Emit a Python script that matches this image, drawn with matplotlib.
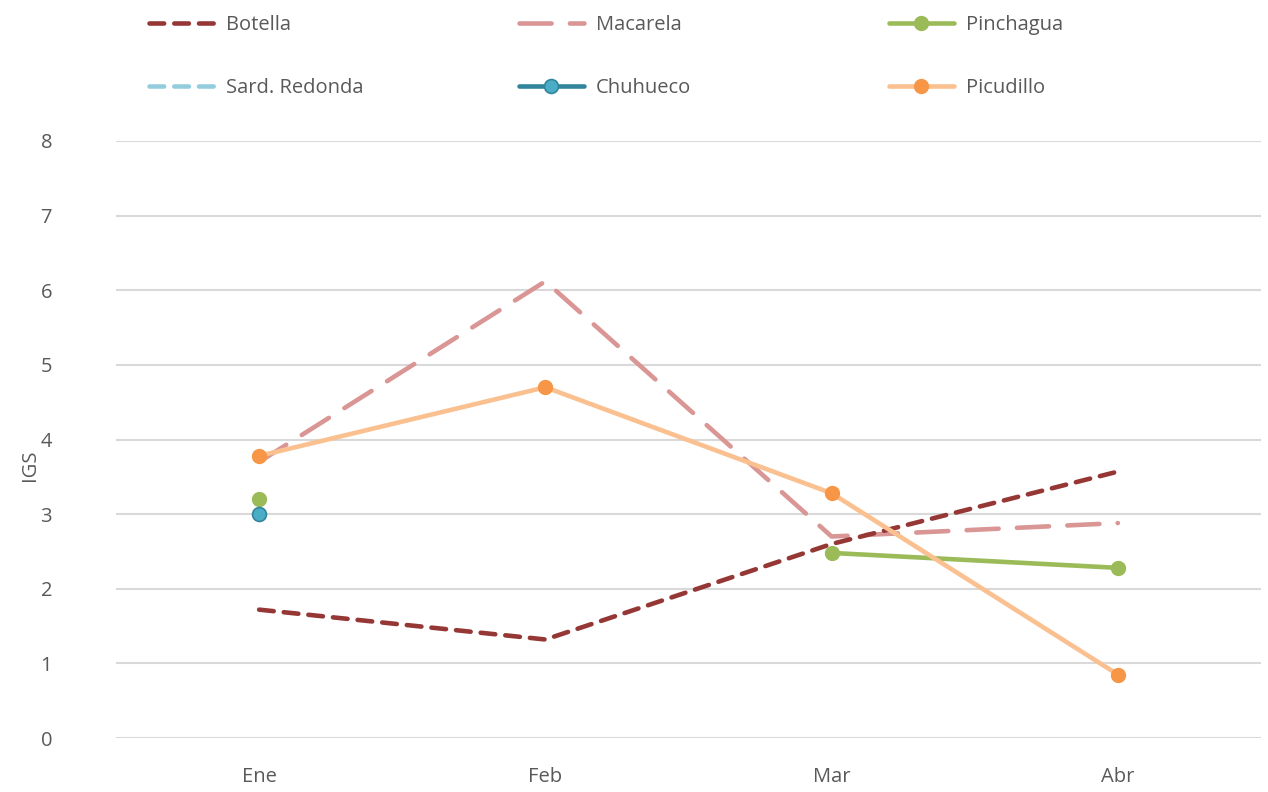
import matplotlib
matplotlib.use("Agg")
import matplotlib.pyplot as plt
from matplotlib.lines import Line2D
import numpy as np

months = ["Ene", "Feb", "Mar", "Abr"]
botella = [1.72, 1.32, 2.60, 3.57]
macarela = [3.70, 6.12, 2.70, 2.88]
pinchagua = [3.20, np.nan, 2.48, 2.28]
sard_redonda = [np.nan, np.nan, np.nan, np.nan]
chuhueco = [3.00, np.nan, np.nan, np.nan]
picudillo = [3.78, 4.70, 3.28, 0.85]
yticks = [0, 1, 2, 3, 4, 5, 6, 7, 8]

plt.rcParams['font.family'] = ['Open Sans', 'DejaVu Sans']
TXT = '#595959'
FS = 14.5

fig = plt.figure(figsize=(12.68, 7.92), dpi=100)
ax = fig.add_axes([116/1268, 1-738/792, (1261-116)/1268, (738-141)/792])

x = np.arange(len(months))

styles = {
    'Botella': dict(color='#953735', lw=3.3, dashes=(3.2, 2.2), zorder=4),
    'Macarela': dict(color='#D99694', lw=3.3, dashes=(7, 4), zorder=3),
    'Pinchagua': dict(color='#9BBB59', lw=3.3, marker='o', ms=10, mfc='#9BBB59', mec='#9BBB59', zorder=5),
    'Sard. Redonda': dict(color='#93CDDD', lw=3.3, dashes=(3.2, 2.2), zorder=3),
    'Chuhueco': dict(color='#31859C', lw=3.3, marker='o', ms=10, mfc='#4BACC6', mec='#31859C', mew=1.2, zorder=6),
    'Picudillo': dict(color='#FAC090', lw=3.3, marker='o', ms=10, mfc='#F79646', mec='#F79646', zorder=7),
}
data = {
    'Botella': botella, 'Macarela': macarela, 'Pinchagua': pinchagua,
    'Sard. Redonda': sard_redonda, 'Chuhueco': chuhueco, 'Picudillo': picudillo,
}
for name, vals in data.items():
    st = dict(styles[name])
    ax.plot(x, vals, solid_capstyle='round', dash_capstyle='round', **st)

ax.set_xlim(-0.5, 3.5)
ax.set_ylim(0, 8)
ax.set_yticks(yticks)
ax.set_xticks(x)
ax.set_xticklabels(months)
ax.grid(axis='y', color='#D9D9D9', lw=1.5, zorder=0)
ax.set_axisbelow(True)
for s in ax.spines.values():
    s.set_visible(False)
ax.tick_params(axis='both', length=0, labelsize=FS, labelcolor=TXT)
ax.tick_params(axis='y', pad=46)
ax.tick_params(axis='x', pad=21)
fig.text(30/1268, 1-465/792, 'IGS', rotation=90, fontsize=FS, color=TXT,
         ha='center', va='center')

# legend: three columns, two rows
cols = [['Botella', 'Sard. Redonda'], ['Macarela', 'Chuhueco'], ['Pinchagua', 'Picudillo']]
xpos = [136/1268, 506/1268, 876/1268]
for names, xp in zip(cols, xpos):
    handles = []
    for n in names:
        st = dict(styles[n])
        st.pop('zorder', None)
        handles.append(Line2D([0], [0], solid_capstyle='round', dash_capstyle='round', markevery=[1] if 'marker' in st else None, **st))
    leg = fig.legend(handles, names, loc='upper left', bbox_to_anchor=(xp, 1 - 2/792),
                     frameon=False, fontsize=FS, handlelength=3.2, handletextpad=0.6,
                     labelspacing=2.15, borderaxespad=0.3, borderpad=0.35)
    for t in leg.get_texts():
        t.set_color(TXT)

fig.savefig('out.png', dpi=100)
